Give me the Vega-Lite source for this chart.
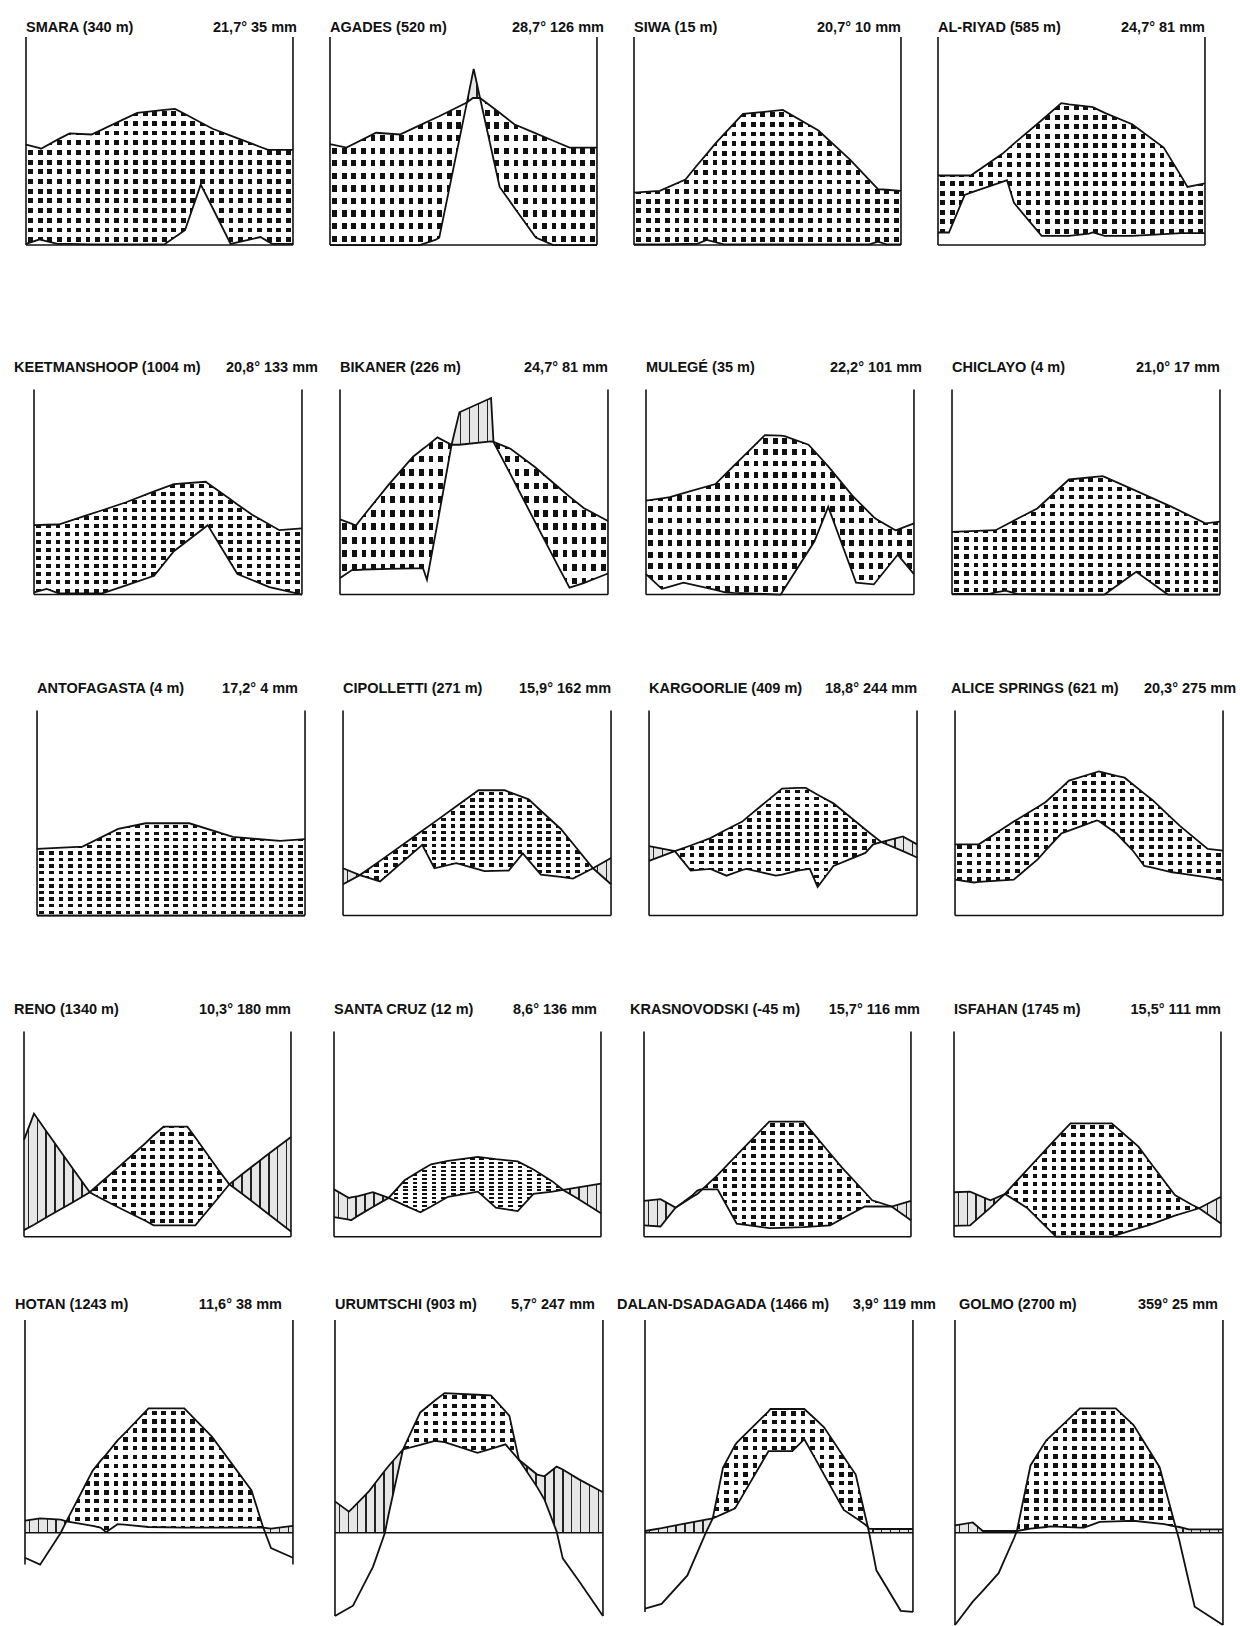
{
"$schema":"https://vega.github.io/schema/vega-lite/v6.json",
"padding":0,
"background":"white",
"params":[
{"name":"dotrows","value":{"gradient":"linear","x1":0,"y1":0,"x2":0,"y2":1,"stops":[
{"offset":0,"color":"#fff"},
{"offset":0.0179,"color":"#fff"},{"offset":0.0179,"color":"#111"},{"offset":0.0536,"color":"#111"},{"offset":0.0536,"color":"#fff"},
{"offset":0.0893,"color":"#fff"},{"offset":0.0893,"color":"#111"},{"offset":0.125,"color":"#111"},{"offset":0.125,"color":"#fff"},
{"offset":0.1607,"color":"#fff"},{"offset":0.1607,"color":"#111"},{"offset":0.1964,"color":"#111"},{"offset":0.1964,"color":"#fff"},
{"offset":0.2321,"color":"#fff"},{"offset":0.2321,"color":"#111"},{"offset":0.2679,"color":"#111"},{"offset":0.2679,"color":"#fff"},
{"offset":0.3036,"color":"#fff"},{"offset":0.3036,"color":"#111"},{"offset":0.3393,"color":"#111"},{"offset":0.3393,"color":"#fff"},
{"offset":0.375,"color":"#fff"},{"offset":0.375,"color":"#111"},{"offset":0.4107,"color":"#111"},{"offset":0.4107,"color":"#fff"},
{"offset":0.4464,"color":"#fff"},{"offset":0.4464,"color":"#111"},{"offset":0.4821,"color":"#111"},{"offset":0.4821,"color":"#fff"},
{"offset":0.5179,"color":"#fff"},{"offset":0.5179,"color":"#111"},{"offset":0.5536,"color":"#111"},{"offset":0.5536,"color":"#fff"},
{"offset":0.5893,"color":"#fff"},{"offset":0.5893,"color":"#111"},{"offset":0.625,"color":"#111"},{"offset":0.625,"color":"#fff"},
{"offset":0.6607,"color":"#fff"},{"offset":0.6607,"color":"#111"},{"offset":0.6964,"color":"#111"},{"offset":0.6964,"color":"#fff"},
{"offset":0.7321,"color":"#fff"},{"offset":0.7321,"color":"#111"},{"offset":0.7679,"color":"#111"},{"offset":0.7679,"color":"#fff"},
{"offset":0.8036,"color":"#fff"},{"offset":0.8036,"color":"#111"},{"offset":0.8393,"color":"#111"},{"offset":0.8393,"color":"#fff"},
{"offset":0.875,"color":"#fff"},{"offset":0.875,"color":"#111"},{"offset":0.9107,"color":"#111"},{"offset":0.9107,"color":"#fff"},
{"offset":0.9464,"color":"#fff"},{"offset":0.9464,"color":"#111"},{"offset":0.9821,"color":"#111"},{"offset":0.9821,"color":"#fff"},
{"offset":1,"color":"#fff"}]}},
{"name":"dotcols","value":{"gradient":"linear","x1":0,"y1":0,"x2":1,"y2":0,"stops":[
{"offset":0,"color":"#fff"},
{"offset":0.0089,"color":"#fff"},{"offset":0.0089,"color":"rgba(255,255,255,0)"},{"offset":0.0268,"color":"rgba(255,255,255,0)"},{"offset":0.0268,"color":"#fff"},
{"offset":0.0446,"color":"#fff"},{"offset":0.0446,"color":"rgba(255,255,255,0)"},{"offset":0.0625,"color":"rgba(255,255,255,0)"},{"offset":0.0625,"color":"#fff"},
{"offset":0.0804,"color":"#fff"},{"offset":0.0804,"color":"rgba(255,255,255,0)"},{"offset":0.0982,"color":"rgba(255,255,255,0)"},{"offset":0.0982,"color":"#fff"},
{"offset":0.1161,"color":"#fff"},{"offset":0.1161,"color":"rgba(255,255,255,0)"},{"offset":0.1339,"color":"rgba(255,255,255,0)"},{"offset":0.1339,"color":"#fff"},
{"offset":0.1518,"color":"#fff"},{"offset":0.1518,"color":"rgba(255,255,255,0)"},{"offset":0.1696,"color":"rgba(255,255,255,0)"},{"offset":0.1696,"color":"#fff"},
{"offset":0.1875,"color":"#fff"},{"offset":0.1875,"color":"rgba(255,255,255,0)"},{"offset":0.2054,"color":"rgba(255,255,255,0)"},{"offset":0.2054,"color":"#fff"},
{"offset":0.2232,"color":"#fff"},{"offset":0.2232,"color":"rgba(255,255,255,0)"},{"offset":0.2411,"color":"rgba(255,255,255,0)"},{"offset":0.2411,"color":"#fff"},
{"offset":0.2589,"color":"#fff"},{"offset":0.2589,"color":"rgba(255,255,255,0)"},{"offset":0.2768,"color":"rgba(255,255,255,0)"},{"offset":0.2768,"color":"#fff"},
{"offset":0.2946,"color":"#fff"},{"offset":0.2946,"color":"rgba(255,255,255,0)"},{"offset":0.3125,"color":"rgba(255,255,255,0)"},{"offset":0.3125,"color":"#fff"},
{"offset":0.3304,"color":"#fff"},{"offset":0.3304,"color":"rgba(255,255,255,0)"},{"offset":0.3482,"color":"rgba(255,255,255,0)"},{"offset":0.3482,"color":"#fff"},
{"offset":0.3661,"color":"#fff"},{"offset":0.3661,"color":"rgba(255,255,255,0)"},{"offset":0.3839,"color":"rgba(255,255,255,0)"},{"offset":0.3839,"color":"#fff"},
{"offset":0.4018,"color":"#fff"},{"offset":0.4018,"color":"rgba(255,255,255,0)"},{"offset":0.4196,"color":"rgba(255,255,255,0)"},{"offset":0.4196,"color":"#fff"},
{"offset":0.4375,"color":"#fff"},{"offset":0.4375,"color":"rgba(255,255,255,0)"},{"offset":0.4554,"color":"rgba(255,255,255,0)"},{"offset":0.4554,"color":"#fff"},
{"offset":0.4732,"color":"#fff"},{"offset":0.4732,"color":"rgba(255,255,255,0)"},{"offset":0.4911,"color":"rgba(255,255,255,0)"},{"offset":0.4911,"color":"#fff"},
{"offset":0.5089,"color":"#fff"},{"offset":0.5089,"color":"rgba(255,255,255,0)"},{"offset":0.5268,"color":"rgba(255,255,255,0)"},{"offset":0.5268,"color":"#fff"},
{"offset":0.5446,"color":"#fff"},{"offset":0.5446,"color":"rgba(255,255,255,0)"},{"offset":0.5625,"color":"rgba(255,255,255,0)"},{"offset":0.5625,"color":"#fff"},
{"offset":0.5804,"color":"#fff"},{"offset":0.5804,"color":"rgba(255,255,255,0)"},{"offset":0.5982,"color":"rgba(255,255,255,0)"},{"offset":0.5982,"color":"#fff"},
{"offset":0.6161,"color":"#fff"},{"offset":0.6161,"color":"rgba(255,255,255,0)"},{"offset":0.6339,"color":"rgba(255,255,255,0)"},{"offset":0.6339,"color":"#fff"},
{"offset":0.6518,"color":"#fff"},{"offset":0.6518,"color":"rgba(255,255,255,0)"},{"offset":0.6696,"color":"rgba(255,255,255,0)"},{"offset":0.6696,"color":"#fff"},
{"offset":0.6875,"color":"#fff"},{"offset":0.6875,"color":"rgba(255,255,255,0)"},{"offset":0.7054,"color":"rgba(255,255,255,0)"},{"offset":0.7054,"color":"#fff"},
{"offset":0.7232,"color":"#fff"},{"offset":0.7232,"color":"rgba(255,255,255,0)"},{"offset":0.7411,"color":"rgba(255,255,255,0)"},{"offset":0.7411,"color":"#fff"},
{"offset":0.7589,"color":"#fff"},{"offset":0.7589,"color":"rgba(255,255,255,0)"},{"offset":0.7768,"color":"rgba(255,255,255,0)"},{"offset":0.7768,"color":"#fff"},
{"offset":0.7946,"color":"#fff"},{"offset":0.7946,"color":"rgba(255,255,255,0)"},{"offset":0.8125,"color":"rgba(255,255,255,0)"},{"offset":0.8125,"color":"#fff"},
{"offset":0.8304,"color":"#fff"},{"offset":0.8304,"color":"rgba(255,255,255,0)"},{"offset":0.8482,"color":"rgba(255,255,255,0)"},{"offset":0.8482,"color":"#fff"},
{"offset":0.8661,"color":"#fff"},{"offset":0.8661,"color":"rgba(255,255,255,0)"},{"offset":0.8839,"color":"rgba(255,255,255,0)"},{"offset":0.8839,"color":"#fff"},
{"offset":0.9018,"color":"#fff"},{"offset":0.9018,"color":"rgba(255,255,255,0)"},{"offset":0.9196,"color":"rgba(255,255,255,0)"},{"offset":0.9196,"color":"#fff"},
{"offset":0.9375,"color":"#fff"},{"offset":0.9375,"color":"rgba(255,255,255,0)"},{"offset":0.9554,"color":"rgba(255,255,255,0)"},{"offset":0.9554,"color":"#fff"},
{"offset":0.9732,"color":"#fff"},{"offset":0.9732,"color":"rgba(255,255,255,0)"},{"offset":0.9911,"color":"rgba(255,255,255,0)"},{"offset":0.9911,"color":"#fff"},
{"offset":1,"color":"#fff"}]}},
{"name":"hatch","value":{"gradient":"linear","x1":0,"y1":0,"x2":1,"y2":0,"stops":[
{"offset":0,"color":"#e6e6e6"},
{"offset":0.0137,"color":"#e6e6e6"},{"offset":0.0137,"color":"#222"},{"offset":0.0197,"color":"#222"},{"offset":0.0197,"color":"#e6e6e6"},
{"offset":0.047,"color":"#e6e6e6"},{"offset":0.047,"color":"#222"},{"offset":0.053,"color":"#222"},{"offset":0.053,"color":"#e6e6e6"},
{"offset":0.0803,"color":"#e6e6e6"},{"offset":0.0803,"color":"#222"},{"offset":0.0863,"color":"#222"},{"offset":0.0863,"color":"#e6e6e6"},
{"offset":0.1137,"color":"#e6e6e6"},{"offset":0.1137,"color":"#222"},{"offset":0.1197,"color":"#222"},{"offset":0.1197,"color":"#e6e6e6"},
{"offset":0.147,"color":"#e6e6e6"},{"offset":0.147,"color":"#222"},{"offset":0.153,"color":"#222"},{"offset":0.153,"color":"#e6e6e6"},
{"offset":0.1803,"color":"#e6e6e6"},{"offset":0.1803,"color":"#222"},{"offset":0.1863,"color":"#222"},{"offset":0.1863,"color":"#e6e6e6"},
{"offset":0.2137,"color":"#e6e6e6"},{"offset":0.2137,"color":"#222"},{"offset":0.2197,"color":"#222"},{"offset":0.2197,"color":"#e6e6e6"},
{"offset":0.247,"color":"#e6e6e6"},{"offset":0.247,"color":"#222"},{"offset":0.253,"color":"#222"},{"offset":0.253,"color":"#e6e6e6"},
{"offset":0.2803,"color":"#e6e6e6"},{"offset":0.2803,"color":"#222"},{"offset":0.2863,"color":"#222"},{"offset":0.2863,"color":"#e6e6e6"},
{"offset":0.3137,"color":"#e6e6e6"},{"offset":0.3137,"color":"#222"},{"offset":0.3197,"color":"#222"},{"offset":0.3197,"color":"#e6e6e6"},
{"offset":0.347,"color":"#e6e6e6"},{"offset":0.347,"color":"#222"},{"offset":0.353,"color":"#222"},{"offset":0.353,"color":"#e6e6e6"},
{"offset":0.3803,"color":"#e6e6e6"},{"offset":0.3803,"color":"#222"},{"offset":0.3863,"color":"#222"},{"offset":0.3863,"color":"#e6e6e6"},
{"offset":0.4137,"color":"#e6e6e6"},{"offset":0.4137,"color":"#222"},{"offset":0.4197,"color":"#222"},{"offset":0.4197,"color":"#e6e6e6"},
{"offset":0.447,"color":"#e6e6e6"},{"offset":0.447,"color":"#222"},{"offset":0.453,"color":"#222"},{"offset":0.453,"color":"#e6e6e6"},
{"offset":0.4803,"color":"#e6e6e6"},{"offset":0.4803,"color":"#222"},{"offset":0.4863,"color":"#222"},{"offset":0.4863,"color":"#e6e6e6"},
{"offset":0.5137,"color":"#e6e6e6"},{"offset":0.5137,"color":"#222"},{"offset":0.5197,"color":"#222"},{"offset":0.5197,"color":"#e6e6e6"},
{"offset":0.547,"color":"#e6e6e6"},{"offset":0.547,"color":"#222"},{"offset":0.553,"color":"#222"},{"offset":0.553,"color":"#e6e6e6"},
{"offset":0.5803,"color":"#e6e6e6"},{"offset":0.5803,"color":"#222"},{"offset":0.5863,"color":"#222"},{"offset":0.5863,"color":"#e6e6e6"},
{"offset":0.6137,"color":"#e6e6e6"},{"offset":0.6137,"color":"#222"},{"offset":0.6197,"color":"#222"},{"offset":0.6197,"color":"#e6e6e6"},
{"offset":0.647,"color":"#e6e6e6"},{"offset":0.647,"color":"#222"},{"offset":0.653,"color":"#222"},{"offset":0.653,"color":"#e6e6e6"},
{"offset":0.6803,"color":"#e6e6e6"},{"offset":0.6803,"color":"#222"},{"offset":0.6863,"color":"#222"},{"offset":0.6863,"color":"#e6e6e6"},
{"offset":0.7137,"color":"#e6e6e6"},{"offset":0.7137,"color":"#222"},{"offset":0.7197,"color":"#222"},{"offset":0.7197,"color":"#e6e6e6"},
{"offset":0.747,"color":"#e6e6e6"},{"offset":0.747,"color":"#222"},{"offset":0.753,"color":"#222"},{"offset":0.753,"color":"#e6e6e6"},
{"offset":0.7803,"color":"#e6e6e6"},{"offset":0.7803,"color":"#222"},{"offset":0.7863,"color":"#222"},{"offset":0.7863,"color":"#e6e6e6"},
{"offset":0.8137,"color":"#e6e6e6"},{"offset":0.8137,"color":"#222"},{"offset":0.8197,"color":"#222"},{"offset":0.8197,"color":"#e6e6e6"},
{"offset":0.847,"color":"#e6e6e6"},{"offset":0.847,"color":"#222"},{"offset":0.853,"color":"#222"},{"offset":0.853,"color":"#e6e6e6"},
{"offset":0.8803,"color":"#e6e6e6"},{"offset":0.8803,"color":"#222"},{"offset":0.8863,"color":"#222"},{"offset":0.8863,"color":"#e6e6e6"},
{"offset":0.9137,"color":"#e6e6e6"},{"offset":0.9137,"color":"#222"},{"offset":0.9197,"color":"#222"},{"offset":0.9197,"color":"#e6e6e6"},
{"offset":0.947,"color":"#e6e6e6"},{"offset":0.947,"color":"#222"},{"offset":0.953,"color":"#222"},{"offset":0.953,"color":"#e6e6e6"},
{"offset":0.9803,"color":"#e6e6e6"},{"offset":0.9803,"color":"#222"},{"offset":0.9863,"color":"#222"},{"offset":0.9863,"color":"#e6e6e6"},
{"offset":1,"color":"#e6e6e6"}]}}
],
"data":{"values":[
{"st":"SMARA","name":"SMARA (340 m)","info":"21,7°  35 mm"},
{"st":"AGADES","name":"AGADES (520 m)","info":"28,7° 126 mm"},
{"st":"SIWA","name":"SIWA (15 m)","info":"20,7°  10 mm"},
{"st":"ALRIYAD","name":"AL-RIYAD (585 m)","info":"24,7°  81 mm"},
{"st":"KEETMANSHOOP","name":"KEETMANSHOOP (1004 m)","info":"20,8°  133 mm"},
{"st":"BIKANER","name":"BIKANER (226 m)","info":"24,7°  81 mm"},
{"st":"MULEGE","name":"MULEGÉ (35 m)","info":"22,2° 101 mm"},
{"st":"CHICLAYO","name":"CHICLAYO (4 m)","info":"21,0°  17 mm"},
{"st":"ANTOFAGASTA","name":"ANTOFAGASTA (4 m)","info":"17,2°  4 mm"},
{"st":"CIPOLLETTI","name":"CIPOLLETTI (271 m)","info":"15,9°  162 mm"},
{"st":"KARGOORLIE","name":"KARGOORLIE (409 m)","info":"18,8°  244 mm"},
{"st":"ALICE","name":"ALICE SPRINGS (621 m)","info":"20,3° 275 mm"},
{"st":"RENO","name":"RENO (1340 m)","info":"10,3°  180 mm"},
{"st":"SANTACRUZ","name":"SANTA CRUZ (12 m)","info":"8,6°  136 mm"},
{"st":"KRASNOVODSKI","name":"KRASNOVODSKI (-45 m)","info":"15,7°  116 mm"},
{"st":"ISFAHAN","name":"ISFAHAN (1745 m)","info":"15,5°  111 mm"},
{"st":"HOTAN","name":"HOTAN (1243 m)","info":"11,6° 38 mm"},
{"st":"URUMTSCHI","name":"URUMTSCHI (903 m)","info":"5,7° 247 mm"},
{"st":"DALAN","name":"DALAN-DSADAGADA (1466 m)","info":"3,9° 119 mm"},
{"st":"GOLMO","name":"GOLMO (2700 m)","info":"359° 25 mm"},

{"st":"SMARA","x":0,"t":17.6,"p":0.2},{"st":"SMARA","x":0.57,"t":17.0,"p":1.0},{"st":"SMARA","x":0.62,"t":16.9,"p":0.9},{"st":"SMARA","x":1.3,"t":18.5,"p":0.2},{"st":"SMARA","x":1.8,"t":19.6,"p":0.2},{"st":"SMARA","x":2.7,"t":19.4,"p":0.1},{"st":"SMARA","x":4.58,"t":23.2,"p":0.1},{"st":"SMARA","x":5.7,"t":23.7,"p":0.1},{"st":"SMARA","x":6.14,"t":23.9,"p":1.4},{"st":"SMARA","x":6.55,"t":23.0,"p":2.6},{"st":"SMARA","x":7.2,"t":21.5,"p":10.6},{"st":"SMARA","x":7.69,"t":20.4,"p":6.5},{"st":"SMARA","x":8.43,"t":19.2,"p":0.2},{"st":"SMARA","x":9.66,"t":17.2,"p":1.4},{"st":"SMARA","x":9.98,"t":16.7,"p":0.6},{"st":"SMARA","x":10.15,"t":16.7,"p":0.2},{"st":"SMARA","x":11,"t":16.7,"p":0.2},

{"st":"AGADES","x":0,"t":17.7,"p":0},{"st":"AGADES","x":0.68,"t":17.1,"p":0},{"st":"AGADES","x":1.9,"t":19.7,"p":0},{"st":"AGADES","x":2.88,"t":19.4,"p":0},{"st":"AGADES","x":3.69,"t":21.0,"p":0},{"st":"AGADES","x":4.34,"t":22.3,"p":0.9},{"st":"AGADES","x":4.5,"t":22.6,"p":1.3},{"st":"AGADES","x":5.64,"t":25.0,"p":25.0},{"st":"AGADES","x":5.89,"t":25.8,"p":30.3},{"st":"AGADES","x":5.92,"t":25.8,"p":30.9},{"st":"AGADES","x":6.18,"t":25.8,"p":25.8},{"st":"AGADES","x":6.99,"t":23.2,"p":10.2},{"st":"AGADES","x":7.59,"t":21.2,"p":6.6},{"st":"AGADES","x":8.48,"t":19.6,"p":1.3},{"st":"AGADES","x":9.2,"t":18.3,"p":0},{"st":"AGADES","x":9.87,"t":17.1,"p":0},{"st":"AGADES","x":11,"t":17.1,"p":0},

{"st":"SIWA","x":0,"t":9.2,"p":0.1},{"st":"SIWA","x":1.06,"t":9.5,"p":0.1},{"st":"SIWA","x":2.12,"t":11.5,"p":0.2},{"st":"SIWA","x":2.6,"t":14.0,"p":0.2},{"st":"SIWA","x":3.0,"t":16.0,"p":0.9},{"st":"SIWA","x":3.35,"t":17.8,"p":0.5},{"st":"SIWA","x":3.7,"t":19.4,"p":0.1},{"st":"SIWA","x":4.49,"t":23.0,"p":0.1},{"st":"SIWA","x":6.13,"t":23.7,"p":0.1},{"st":"SIWA","x":7.6,"t":20.1,"p":0.1},{"st":"SIWA","x":8.9,"t":15.0,"p":0.1},{"st":"SIWA","x":9.7,"t":11.4,"p":0.1},{"st":"SIWA","x":10.05,"t":9.8,"p":0.6},{"st":"SIWA","x":10.4,"t":9.7,"p":0.1},{"st":"SIWA","x":11,"t":9.5,"p":0.1},

{"st":"ALRIYAD","x":0,"t":12.2,"p":2.2},{"st":"ALRIYAD","x":0.45,"t":12.2,"p":2.2},{"st":"ALRIYAD","x":1.1,"t":12.2,"p":8.8},{"st":"ALRIYAD","x":1.35,"t":12.2,"p":9.2},{"st":"ALRIYAD","x":2.65,"t":16.0,"p":11.1},{"st":"ALRIYAD","x":2.84,"t":16.7,"p":11.4},{"st":"ALRIYAD","x":3.13,"t":17.8,"p":7.4},{"st":"ALRIYAD","x":4.27,"t":21.9,"p":1.6},{"st":"ALRIYAD","x":5.08,"t":24.9,"p":1.6},{"st":"ALRIYAD","x":5.4,"t":24.7,"p":1.6},{"st":"ALRIYAD","x":6.22,"t":24.3,"p":2.0},{"st":"ALRIYAD","x":6.38,"t":24.2,"p":2.2},{"st":"ALRIYAD","x":6.87,"t":23.2,"p":1.6},{"st":"ALRIYAD","x":8.0,"t":21.2,"p":1.6},{"st":"ALRIYAD","x":9.3,"t":17.1,"p":1.9},{"st":"ALRIYAD","x":10.03,"t":12.0,"p":2.1},{"st":"ALRIYAD","x":10.28,"t":10.2,"p":2.1},{"st":"ALRIYAD","x":11,"t":10.8,"p":2.1},

{"st":"KEETMANSHOOP","x":0,"t":12.2,"p":0.4},{"st":"KEETMANSHOOP","x":0.52,"t":12.25,"p":1.0},{"st":"KEETMANSHOOP","x":1.01,"t":12.3,"p":0.2},{"st":"KEETMANSHOOP","x":2.15,"t":13.9,"p":0.2},{"st":"KEETMANSHOOP","x":2.8,"t":14.8,"p":0.2},{"st":"KEETMANSHOOP","x":3.78,"t":16.2,"p":1.6},{"st":"KEETMANSHOOP","x":4.93,"t":18.1,"p":3.3},{"st":"KEETMANSHOOP","x":5.74,"t":19.4,"p":7.6},{"st":"KEETMANSHOOP","x":7.05,"t":19.8,"p":11.9},{"st":"KEETMANSHOOP","x":7.13,"t":19.55,"p":12.2},{"st":"KEETMANSHOOP","x":8.03,"t":16.8,"p":5.85},{"st":"KEETMANSHOOP","x":8.35,"t":15.8,"p":3.6},{"st":"KEETMANSHOOP","x":9.0,"t":13.9,"p":2.46},{"st":"KEETMANSHOOP","x":9.66,"t":12.3,"p":1.3},{"st":"KEETMANSHOOP","x":10.07,"t":11.3,"p":0.9},{"st":"KEETMANSHOOP","x":11,"t":11.6,"p":0},

{"st":"BIKANER","x":0,"t":13.2,"p":2.9},{"st":"BIKANER","x":0.49,"t":12.4,"p":4.3},{"st":"BIKANER","x":0.65,"t":12.1,"p":4.3},{"st":"BIKANER","x":1.0,"t":14.0,"p":4.4},{"st":"BIKANER","x":2.0,"t":19.3,"p":4.5},{"st":"BIKANER","x":3.0,"t":24.2,"p":4.6},{"st":"BIKANER","x":3.41,"t":25.6,"p":4.6},{"st":"BIKANER","x":3.57,"t":26.1,"p":2.6},{"st":"BIKANER","x":4.0,"t":27.6,"p":12.5},{"st":"BIKANER","x":4.58,"t":26.3,"p":26.3},{"st":"BIKANER","x":4.9,"t":26.3,"p":32.0},{"st":"BIKANER","x":6.2,"t":26.9,"p":34.5},{"st":"BIKANER","x":6.3,"t":26.8,"p":26.8},{"st":"BIKANER","x":7.0,"t":25.6,"p":21.1},{"st":"BIKANER","x":8.0,"t":22.4,"p":12.8},{"st":"BIKANER","x":9.0,"t":18.7,"p":4.6},{"st":"BIKANER","x":9.42,"t":17.2,"p":1.2},{"st":"BIKANER","x":10.0,"t":15.2,"p":2.0},{"st":"BIKANER","x":11,"t":12.9,"p":3.7},

{"st":"MULEGE","x":0,"t":16.5,"p":3.6},{"st":"MULEGE","x":0.65,"t":16.9,"p":1.0},{"st":"MULEGE","x":0.98,"t":17.1,"p":1.4},{"st":"MULEGE","x":1.54,"t":17.8,"p":2.1},{"st":"MULEGE","x":2.85,"t":19.4,"p":0.8},{"st":"MULEGE","x":3.25,"t":21.1,"p":0.4},{"st":"MULEGE","x":3.58,"t":22.5,"p":0.3},{"st":"MULEGE","x":4.88,"t":28.0,"p":0.1},{"st":"MULEGE","x":5.53,"t":27.9,"p":0},{"st":"MULEGE","x":5.69,"t":27.8,"p":1.1},{"st":"MULEGE","x":6.67,"t":26.3,"p":7.7},{"st":"MULEGE","x":6.91,"t":25.2,"p":9.3},{"st":"MULEGE","x":7.48,"t":22.5,"p":15.4},{"st":"MULEGE","x":8.46,"t":17.4,"p":4.0},{"st":"MULEGE","x":8.62,"t":16.7,"p":2.1},{"st":"MULEGE","x":9.35,"t":13.6,"p":1.8},{"st":"MULEGE","x":9.43,"t":13.3,"p":2.2},{"st":"MULEGE","x":10.24,"t":11.3,"p":6.5},{"st":"MULEGE","x":10.33,"t":11.4,"p":7.0},{"st":"MULEGE","x":11,"t":12.5,"p":3.6},

{"st":"CHICLAYO","x":0,"t":11.0,"p":0.1},{"st":"CHICLAYO","x":1.54,"t":11.25,"p":0.1},{"st":"CHICLAYO","x":1.79,"t":11.3,"p":0.4},{"st":"CHICLAYO","x":2.2,"t":12.2,"p":0.7},{"st":"CHICLAYO","x":2.68,"t":13.3,"p":0.1},{"st":"CHICLAYO","x":3.5,"t":15.1,"p":0.05},{"st":"CHICLAYO","x":4.8,"t":20.2,"p":0},{"st":"CHICLAYO","x":6.18,"t":20.8,"p":0},{"st":"CHICLAYO","x":6.26,"t":20.65,"p":0},{"st":"CHICLAYO","x":7.56,"t":18.2,"p":4.0},{"st":"CHICLAYO","x":8.86,"t":15.7,"p":0},{"st":"CHICLAYO","x":9.02,"t":15.4,"p":0},{"st":"CHICLAYO","x":10.4,"t":12.5,"p":0},{"st":"CHICLAYO","x":11,"t":12.8,"p":0},

{"st":"ANTOFAGASTA","x":0,"t":11.7,"p":0},{"st":"ANTOFAGASTA","x":1.87,"t":12.1,"p":0},{"st":"ANTOFAGASTA","x":3.33,"t":15.2,"p":0},{"st":"ANTOFAGASTA","x":4.46,"t":16.2,"p":0},{"st":"ANTOFAGASTA","x":6.25,"t":16.2,"p":0},{"st":"ANTOFAGASTA","x":8.04,"t":13.8,"p":0},{"st":"ANTOFAGASTA","x":9.98,"t":13.1,"p":0},{"st":"ANTOFAGASTA","x":11,"t":13.4,"p":0},

{"st":"CIPOLLETTI","x":0,"t":5.5,"p":8.3},{"st":"CIPOLLETTI","x":0.69,"t":7.1,"p":7.1},{"st":"CIPOLLETTI","x":1.52,"t":9.6,"p":6.0},{"st":"CIPOLLETTI","x":3.25,"t":14.9,"p":12.4},{"st":"CIPOLLETTI","x":3.75,"t":16.4,"p":8.3},{"st":"CIPOLLETTI","x":4.65,"t":19.2,"p":9.2},{"st":"CIPOLLETTI","x":5.56,"t":22.0,"p":8.1},{"st":"CIPOLLETTI","x":5.8,"t":22.0,"p":7.8},{"st":"CIPOLLETTI","x":6.63,"t":22.0,"p":7.9},{"st":"CIPOLLETTI","x":6.8,"t":21.7,"p":7.9},{"st":"CIPOLLETTI","x":7.38,"t":20.8,"p":10.9},{"st":"CIPOLLETTI","x":7.62,"t":20.4,"p":9.7},{"st":"CIPOLLETTI","x":8.12,"t":18.4,"p":7.2},{"st":"CIPOLLETTI","x":8.94,"t":15.2,"p":6.8},{"st":"CIPOLLETTI","x":9.44,"t":12.6,"p":6.5},{"st":"CIPOLLETTI","x":10.26,"t":8.3,"p":8.3},{"st":"CIPOLLETTI","x":11,"t":5.5,"p":10.1},

{"st":"KARGOORLIE","x":0,"t":9.6,"p":12.2},{"st":"KARGOORLIE","x":1.06,"t":11.3,"p":11.3},{"st":"KARGOORLIE","x":1.71,"t":12.3,"p":7.9},{"st":"KARGOORLIE","x":2.52,"t":13.6,"p":8.2},{"st":"KARGOORLIE","x":3.18,"t":15.1,"p":7.0},{"st":"KARGOORLIE","x":3.83,"t":16.5,"p":8.0},{"st":"KARGOORLIE","x":3.99,"t":17.1,"p":8.2},{"st":"KARGOORLIE","x":5.21,"t":21.4,"p":7.0},{"st":"KARGOORLIE","x":5.46,"t":22.3,"p":7.2},{"st":"KARGOORLIE","x":6.1,"t":22.4,"p":7.9},{"st":"KARGOORLIE","x":6.43,"t":22.4,"p":8.1},{"st":"KARGOORLIE","x":6.6,"t":22.0,"p":8.2},{"st":"KARGOORLIE","x":6.92,"t":21.2,"p":5.0},{"st":"KARGOORLIE","x":7.57,"t":19.7,"p":8.7},{"st":"KARGOORLIE","x":8.88,"t":15.1,"p":11.0},{"st":"KARGOORLIE","x":9.2,"t":14.0,"p":12.5},{"st":"KARGOORLIE","x":9.53,"t":12.9,"p":12.9},{"st":"KARGOORLIE","x":10.42,"t":11.3,"p":13.9},{"st":"KARGOORLIE","x":11,"t":10.2,"p":12.5},

{"st":"ALICE","x":0,"t":12.5,"p":6.3},{"st":"ALICE","x":0.78,"t":12.5,"p":5.8},{"st":"ALICE","x":0.98,"t":12.5,"p":5.9},{"st":"ALICE","x":2.41,"t":16.5,"p":6.3},{"st":"ALICE","x":3.38,"t":19.0,"p":9.8},{"st":"ALICE","x":3.71,"t":19.9,"p":11.4},{"st":"ALICE","x":4.36,"t":22.4,"p":14.4},{"st":"ALICE","x":4.68,"t":23.7,"p":14.9},{"st":"ALICE","x":5.82,"t":25.2,"p":16.7},{"st":"ALICE","x":5.9,"t":25.3,"p":16.6},{"st":"ALICE","x":6.63,"t":24.5,"p":14.4},{"st":"ALICE","x":6.96,"t":24.2,"p":12.9},{"st":"ALICE","x":7.28,"t":23.1,"p":11.5},{"st":"ALICE","x":7.77,"t":21.4,"p":8.7},{"st":"ALICE","x":8.1,"t":20.3,"p":8.4},{"st":"ALICE","x":8.91,"t":17.0,"p":7.6},{"st":"ALICE","x":9.24,"t":15.7,"p":7.4},{"st":"ALICE","x":10.37,"t":11.7,"p":6.7},{"st":"ALICE","x":11,"t":11.4,"p":6.2},

{"st":"RENO","x":0,"t":1.15,"p":17.0},{"st":"RENO","x":0.41,"t":2.1,"p":21.6},{"st":"RENO","x":1,"t":3.6,"p":18.0},{"st":"RENO","x":2,"t":6.0,"p":12.0},{"st":"RENO","x":2.71,"t":7.8,"p":7.8},{"st":"RENO","x":3,"t":8.9,"p":7.1},{"st":"RENO","x":4,"t":12.6,"p":4.9},{"st":"RENO","x":5,"t":16.4,"p":2.8},{"st":"RENO","x":5.34,"t":17.8,"p":2.0},{"st":"RENO","x":5.75,"t":19.3,"p":2.0},{"st":"RENO","x":6.73,"t":19.3,"p":2.0},{"st":"RENO","x":7.06,"t":17.4,"p":2.0},{"st":"RENO","x":8,"t":11.8,"p":6.8},{"st":"RENO","x":8.46,"t":9.2,"p":9.2},{"st":"RENO","x":9,"t":7.5,"p":11.0},{"st":"RENO","x":10,"t":4.2,"p":14.3},{"st":"RENO","x":11,"t":0.9,"p":17.5},

{"st":"SANTACRUZ","x":0,"t":3.45,"p":8.3},{"st":"SANTACRUZ","x":0.62,"t":3.0,"p":6.8},{"st":"SANTACRUZ","x":0.7,"t":2.9,"p":6.9},{"st":"SANTACRUZ","x":1,"t":3.7,"p":7.1},{"st":"SANTACRUZ","x":1.6,"t":5.2,"p":7.8},{"st":"SANTACRUZ","x":2,"t":6.2,"p":7.2},{"st":"SANTACRUZ","x":2.25,"t":6.8,"p":6.8},{"st":"SANTACRUZ","x":2.91,"t":9.9,"p":5.5},{"st":"SANTACRUZ","x":3.56,"t":11.6,"p":4.3},{"st":"SANTACRUZ","x":4,"t":12.7,"p":5.3},{"st":"SANTACRUZ","x":4.7,"t":13.3,"p":7.0},{"st":"SANTACRUZ","x":5.93,"t":14.0,"p":7.9},{"st":"SANTACRUZ","x":6.67,"t":13.6,"p":5.1},{"st":"SANTACRUZ","x":7.57,"t":13.2,"p":4.5},{"st":"SANTACRUZ","x":8.22,"t":11.8,"p":7.5},{"st":"SANTACRUZ","x":9,"t":9.7,"p":7.9},{"st":"SANTACRUZ","x":9.44,"t":8.2,"p":8.2},{"st":"SANTACRUZ","x":10,"t":6.8,"p":8.6},{"st":"SANTACRUZ","x":11,"t":4.1,"p":9.3},

{"st":"KRASNOVODSKI","x":0,"t":2.0,"p":6.3},{"st":"KRASNOVODSKI","x":0.68,"t":1.8,"p":6.6},{"st":"KRASNOVODSKI","x":1.3,"t":5.1,"p":5.1},{"st":"KRASNOVODSKI","x":1.6,"t":5.9,"p":6.0},{"st":"KRASNOVODSKI","x":2.0,"t":7.0,"p":7.3},{"st":"KRASNOVODSKI","x":2.2,"t":7.5,"p":8.1},{"st":"KRASNOVODSKI","x":2.33,"t":8.0,"p":8.3},{"st":"KRASNOVODSKI","x":2.4,"t":8.3,"p":8.3},{"st":"KRASNOVODSKI","x":3.03,"t":10.8,"p":8.3},{"st":"KRASNOVODSKI","x":3.1,"t":11.1,"p":7.8},{"st":"KRASNOVODSKI","x":3.82,"t":14.3,"p":2.3},{"st":"KRASNOVODSKI","x":5.16,"t":20.2,"p":1.5},{"st":"KRASNOVODSKI","x":5.3,"t":20.2,"p":1.5},{"st":"KRASNOVODSKI","x":6.57,"t":20.2,"p":1.7},{"st":"KRASNOVODSKI","x":7.67,"t":14.6,"p":2.0},{"st":"KRASNOVODSKI","x":8.14,"t":12.2,"p":3.1},{"st":"KRASNOVODSKI","x":9.1,"t":7.8,"p":5.3},{"st":"KRASNOVODSKI","x":9.4,"t":6.4,"p":5.3},{"st":"KRASNOVODSKI","x":10.2,"t":5.3,"p":5.3},{"st":"KRASNOVODSKI","x":11,"t":2.9,"p":6.3},

{"st":"ISFAHAN","x":0,"t":1.9,"p":7.8},{"st":"ISFAHAN","x":0.66,"t":2.0,"p":7.9},{"st":"ISFAHAN","x":1.5,"t":5.1,"p":6.4},{"st":"ISFAHAN","x":2.1,"t":7.5,"p":7.5},{"st":"ISFAHAN","x":3.0,"t":11.7,"p":5.1},{"st":"ISFAHAN","x":4.2,"t":17.2,"p":0},{"st":"ISFAHAN","x":4.8,"t":19.9,"p":0},{"st":"ISFAHAN","x":6.5,"t":19.9,"p":0},{"st":"ISFAHAN","x":7.6,"t":15.8,"p":1.5},{"st":"ISFAHAN","x":8.0,"t":13.5,"p":2.0},{"st":"ISFAHAN","x":9.1,"t":7.3,"p":3.7},{"st":"ISFAHAN","x":9.8,"t":5.6,"p":4.6},{"st":"ISFAHAN","x":10.1,"t":5.0,"p":5.0},{"st":"ISFAHAN","x":11,"t":2.3,"p":7.0},

{"st":"HOTAN","x":0,"t":-4.4,"p":2.1},{"st":"HOTAN","x":0.62,"t":-5.6,"p":2.5},{"st":"HOTAN","x":1.47,"t":0,"p":2.3},{"st":"HOTAN","x":1.7,"t":2.0,"p":2.0},{"st":"HOTAN","x":2.78,"t":10.9,"p":1.2},{"st":"HOTAN","x":3.1,"t":12.6,"p":0.9},{"st":"HOTAN","x":3.33,"t":13.7,"p":0.1},{"st":"HOTAN","x":3.8,"t":16.2,"p":1.5},{"st":"HOTAN","x":4.08,"t":17.4,"p":1.4},{"st":"HOTAN","x":5.07,"t":21.8,"p":1.0},{"st":"HOTAN","x":6.54,"t":21.8,"p":0.9},{"st":"HOTAN","x":7.68,"t":16.8,"p":0.9},{"st":"HOTAN","x":9.3,"t":7.4,"p":0.9},{"st":"HOTAN","x":9.78,"t":0.9,"p":0.9},{"st":"HOTAN","x":10.1,"t":-2.7,"p":0.7},{"st":"HOTAN","x":11,"t":-4.4,"p":1.2},

{"st":"URUMTSCHI","x":0,"t":-14.6,"p":5.5},{"st":"URUMTSCHI","x":0.57,"t":-13.2,"p":3.7},{"st":"URUMTSCHI","x":0.74,"t":-12.8,"p":4.4},{"st":"URUMTSCHI","x":1.4,"t":-7.3,"p":7.3},{"st":"URUMTSCHI","x":1.56,"t":-6.0,"p":8.2},{"st":"URUMTSCHI","x":2.05,"t":0,"p":10.9},{"st":"URUMTSCHI","x":2.2,"t":3.2,"p":11.7},{"st":"URUMTSCHI","x":2.79,"t":14.6,"p":14.6},{"st":"URUMTSCHI","x":3.5,"t":21.1,"p":15.4},{"st":"URUMTSCHI","x":4.1,"t":23.2,"p":16.1},{"st":"URUMTSCHI","x":4.5,"t":24.5,"p":15.9},{"st":"URUMTSCHI","x":5.85,"t":24.2,"p":14.0},{"st":"URUMTSCHI","x":6.4,"t":24.1,"p":14.7},{"st":"URUMTSCHI","x":7.0,"t":21.3,"p":15.5},{"st":"URUMTSCHI","x":7.16,"t":20.5,"p":14.7},{"st":"URUMTSCHI","x":7.55,"t":12.8,"p":12.8},{"st":"URUMTSCHI","x":8.3,"t":8.0,"p":10.2},{"st":"URUMTSCHI","x":8.6,"t":5.8,"p":9.9},{"st":"URUMTSCHI","x":9.1,"t":0.2,"p":11.6},{"st":"URUMTSCHI","x":9.35,"t":-4.5,"p":11.1},{"st":"URUMTSCHI","x":10,"t":-8.4,"p":9.4},{"st":"URUMTSCHI","x":11,"t":-14.6,"p":7.1},

{"st":"DALAN","x":0,"t":-13.3,"p":0.3},{"st":"DALAN","x":0.68,"t":-12.5,"p":0.8},{"st":"DALAN","x":1.74,"t":-7.5,"p":1.7},{"st":"DALAN","x":2.5,"t":0,"p":2.3},{"st":"DALAN","x":2.78,"t":2.5,"p":2.5},{"st":"DALAN","x":3.2,"t":11.4,"p":3.3},{"st":"DALAN","x":3.7,"t":15.4,"p":4.3},{"st":"DALAN","x":3.77,"t":15.8,"p":4.8},{"st":"DALAN","x":5.07,"t":21.3,"p":14.3},{"st":"DALAN","x":5.15,"t":21.7,"p":14.3},{"st":"DALAN","x":6.05,"t":21.7,"p":14.3},{"st":"DALAN","x":6.54,"t":21.7,"p":16.4},{"st":"DALAN","x":7.0,"t":19.9,"p":12.9},{"st":"DALAN","x":7.35,"t":18.5,"p":10.2},{"st":"DALAN","x":8.16,"t":13.3,"p":4.0},{"st":"DALAN","x":8.65,"t":10.2,"p":2.6},{"st":"DALAN","x":9.05,"t":2.8,"p":1.4},{"st":"DALAN","x":9.15,"t":1.0,"p":1.0},{"st":"DALAN","x":9.2,"t":0,"p":0.7},{"st":"DALAN","x":9.5,"t":-6.6,"p":0.65},{"st":"DALAN","x":10.5,"t":-13.7,"p":0.65},{"st":"DALAN","x":11,"t":-13.9,"p":0.65},

{"st":"GOLMO","x":0,"t":-16.2,"p":1.3},{"st":"GOLMO","x":0.73,"t":-12.1,"p":1.8},{"st":"GOLMO","x":1.14,"t":-10.2,"p":0.3},{"st":"GOLMO","x":1.79,"t":-7.1,"p":0.3},{"st":"GOLMO","x":2.44,"t":-0.8,"p":0.3},{"st":"GOLMO","x":2.54,"t":0.3,"p":0.3},{"st":"GOLMO","x":3.1,"t":11.8,"p":0.7},{"st":"GOLMO","x":3.75,"t":16.2,"p":1.0},{"st":"GOLMO","x":3.9,"t":16.8,"p":1.1},{"st":"GOLMO","x":5.13,"t":21.8,"p":0.9},{"st":"GOLMO","x":5.3,"t":21.8,"p":0.9},{"st":"GOLMO","x":5.94,"t":21.8,"p":1.9},{"st":"GOLMO","x":6.6,"t":21.8,"p":2.0},{"st":"GOLMO","x":7.33,"t":18.9,"p":2.1},{"st":"GOLMO","x":8.4,"t":11.5,"p":1.6},{"st":"GOLMO","x":8.6,"t":8.3,"p":1.5},{"st":"GOLMO","x":8.9,"t":3.5,"p":1.2},{"st":"GOLMO","x":9.05,"t":1.1,"p":1.1},{"st":"GOLMO","x":9.2,"t":-1.2,"p":1.0},{"st":"GOLMO","x":9.6,"t":-8.6,"p":0.6},{"st":"GOLMO","x":9.84,"t":-13.0,"p":0.6},{"st":"GOLMO","x":11,"t":-16.2,"p":0.6}
]},
"spacing":0,
"vconcat":[
{"transform":[{"filter":{"field":"st","oneOf":["SMARA","AGADES","SIWA","ALRIYAD"]}}],
 "facet":{"column":{"field":"st","type":"nominal","sort":["SMARA","AGADES","SIWA","ALRIYAD"],"header":{"title":null,"labels":false}}},
 "spacing":0,
 "bounds":"flush",
 "spec":{"width":304,"height":359,"layer":[
  {"transform":[{"filter":"isValid(datum.t)"},{"fold":["t","p"],"as":["k","v"]},{"joinaggregate":[{"op":"max","field":"v","as":"hi"}],"groupby":["st","x"]},{"filter":"datum.k === 'p'"}],"mark":{"type":"area","fill":{"expr":"dotrows"},"opacity":1},"encoding":{"x":{"field":"x","type":"quantitative","scale":{"domain":[-1.071,11.454],"nice":false,"zero":false},"axis":null},"y":{"field":"hi","type":"quantitative","scale":{"domain":[-20,43],"nice":false,"zero":false},"axis":null},"y2":{"field":"v"}}},
  {"transform":[{"filter":"isValid(datum.t)"},{"fold":["t","p"],"as":["k","v"]},{"joinaggregate":[{"op":"max","field":"v","as":"hi"}],"groupby":["st","x"]},{"filter":"datum.k === 'p'"}],"mark":{"type":"area","fill":{"expr":"dotcols"},"opacity":1},"encoding":{"x":{"field":"x","type":"quantitative","axis":null},"y":{"field":"hi","type":"quantitative","axis":null},"y2":{"field":"v"}}},
  {"transform":[{"filter":"isValid(datum.t)"},{"fold":["t","p"],"as":["k","v"]},{"joinaggregate":[{"op":"max","field":"v","as":"hi"}],"groupby":["st","x"]},{"filter":"datum.k === 't'"}],"mark":{"type":"area","fill":{"expr":"hatch"},"opacity":1},"encoding":{"x":{"field":"x","type":"quantitative","axis":null},"y":{"field":"hi","type":"quantitative","axis":null},"y2":{"field":"v"}}},
  {"transform":[{"filter":"isValid(datum.t)"}],"mark":{"type":"line","color":"#111","strokeWidth":1.8},"encoding":{"x":{"field":"x","type":"quantitative","axis":null},"y":{"field":"t","type":"quantitative","axis":null}}},
  {"transform":[{"filter":"isValid(datum.t)"}],"mark":{"type":"line","color":"#111","strokeWidth":1.8},"encoding":{"x":{"field":"x","type":"quantitative","axis":null},"y":{"field":"p","type":"quantitative","axis":null}}},
  {"transform":[{"filter":"isValid(datum.name)"}],"mark":{"type":"rule","color":"#111","strokeWidth":1.6},"encoding":{"x":{"datum":0},"x2":{"datum":11},"y":{"datum":0}}},
  {"transform":[{"filter":"isValid(datum.name)"}],"mark":{"type":"rule","color":"#111","strokeWidth":1.6},"encoding":{"x":{"datum":0},"y":{"datum":0},"y2":{"datum":36.5}}},
  {"transform":[{"filter":"isValid(datum.name)"}],"mark":{"type":"rule","color":"#111","strokeWidth":1.6},"encoding":{"x":{"datum":11},"y":{"datum":0},"y2":{"datum":36.5}}},
  {"transform":[{"filter":"isValid(datum.name)"}],"mark":{"type":"text","align":"left","baseline":"middle","dx":{"expr":"datum.st==='KEETMANSHOOP'?-12:datum.st==='KRASNOVODSKI'?-14:datum.st==='DALAN'?-28:datum.st==='ALICE'?-4:datum.st==='GOLMO'?7:0"}},"encoding":{"x":{"datum":0},"y":{"datum":38.1},"text":{"field":"name"}}},
  {"transform":[{"filter":"isValid(datum.name)"}],"mark":{"type":"text","align":"right","baseline":"middle","dx":{"expr":"datum.st==='SMARA'?4:datum.st==='AGADES'?7:datum.st==='KEETMANSHOOP'?23:datum.st==='MULEGE'?8:datum.st==='ANTOFAGASTA'?-7:datum.st==='ALICE'?13:datum.st==='SANTACRUZ'?-4:datum.st==='KRASNOVODSKI'?9:datum.st==='HOTAN'?-11:datum.st==='URUMTSCHI'?-8:datum.st==='DALAN'?23:datum.st==='GOLMO'?-5:0"}},"encoding":{"x":{"datum":11},"y":{"datum":38.1},"text":{"field":"info"}}}
 ]}},
{"transform":[{"filter":{"field":"st","oneOf":["KEETMANSHOOP","BIKANER","MULEGE","CHICLAYO"]}}],
 "facet":{"column":{"field":"st","type":"nominal","sort":["KEETMANSHOOP","BIKANER","MULEGE","CHICLAYO"],"header":{"title":null,"labels":false}}},
 "spacing":0,
 "bounds":"flush",
 "spec":{"width":306,"height":319,"layer":[
  {"transform":[{"filter":"isValid(datum.t)"},{"fold":["t","p"],"as":["k","v"]},{"joinaggregate":[{"op":"max","field":"v","as":"hi"}],"groupby":["st","x"]},{"filter":"datum.k === 'p'"}],"mark":{"type":"area","fill":{"expr":"dotrows"},"opacity":1},"encoding":{"x":{"field":"x","type":"quantitative","scale":{"domain":[-1.396,11.165],"nice":false,"zero":false},"axis":null},"y":{"field":"hi","type":"quantitative","scale":{"domain":[-15,41],"nice":false,"zero":false},"axis":null},"y2":{"field":"v"}}},
  {"transform":[{"filter":"isValid(datum.t)"},{"fold":["t","p"],"as":["k","v"]},{"joinaggregate":[{"op":"max","field":"v","as":"hi"}],"groupby":["st","x"]},{"filter":"datum.k === 'p'"}],"mark":{"type":"area","fill":{"expr":"dotcols"},"opacity":1},"encoding":{"x":{"field":"x","type":"quantitative","axis":null},"y":{"field":"hi","type":"quantitative","axis":null},"y2":{"field":"v"}}},
  {"transform":[{"filter":"isValid(datum.t)"},{"fold":["t","p"],"as":["k","v"]},{"joinaggregate":[{"op":"max","field":"v","as":"hi"}],"groupby":["st","x"]},{"filter":"datum.k === 't'"}],"mark":{"type":"area","fill":{"expr":"hatch"},"opacity":1},"encoding":{"x":{"field":"x","type":"quantitative","axis":null},"y":{"field":"hi","type":"quantitative","axis":null},"y2":{"field":"v"}}},
  {"transform":[{"filter":"isValid(datum.t)"}],"mark":{"type":"line","color":"#111","strokeWidth":1.8},"encoding":{"x":{"field":"x","type":"quantitative","axis":null},"y":{"field":"t","type":"quantitative","axis":null}}},
  {"transform":[{"filter":"isValid(datum.t)"}],"mark":{"type":"line","color":"#111","strokeWidth":1.8},"encoding":{"x":{"field":"x","type":"quantitative","axis":null},"y":{"field":"p","type":"quantitative","axis":null}}},
  {"transform":[{"filter":"isValid(datum.name)"}],"mark":{"type":"rule","color":"#111","strokeWidth":1.6},"encoding":{"x":{"datum":0},"x2":{"datum":11},"y":{"datum":0}}},
  {"transform":[{"filter":"isValid(datum.name)"}],"mark":{"type":"rule","color":"#111","strokeWidth":1.6},"encoding":{"x":{"datum":0},"y":{"datum":0},"y2":{"datum":36}}},
  {"transform":[{"filter":"isValid(datum.name)"}],"mark":{"type":"rule","color":"#111","strokeWidth":1.6},"encoding":{"x":{"datum":11},"y":{"datum":0},"y2":{"datum":36}}},
  {"transform":[{"filter":"isValid(datum.name)"}],"mark":{"type":"text","align":"left","baseline":"middle","dx":{"expr":"datum.st==='KEETMANSHOOP'?-20:datum.st==='KRASNOVODSKI'?-14:datum.st==='DALAN'?-28:datum.st==='ALICE'?-4:datum.st==='GOLMO'?7:0"}},"encoding":{"x":{"datum":0},"y":{"datum":39.8},"text":{"field":"name"}}},
  {"transform":[{"filter":"isValid(datum.name)"}],"mark":{"type":"text","align":"right","baseline":"middle","dx":{"expr":"datum.st==='SMARA'?4:datum.st==='AGADES'?7:datum.st==='KEETMANSHOOP'?16:datum.st==='MULEGE'?8:datum.st==='ANTOFAGASTA'?-7:datum.st==='ALICE'?13:datum.st==='SANTACRUZ'?-4:datum.st==='KRASNOVODSKI'?9:datum.st==='HOTAN'?-11:datum.st==='URUMTSCHI'?-8:datum.st==='DALAN'?23:datum.st==='GOLMO'?-5:0"}},"encoding":{"x":{"datum":11},"y":{"datum":39.8},"text":{"field":"info"}}}
 ]}},
{"transform":[{"filter":{"field":"st","oneOf":["ANTOFAGASTA","CIPOLLETTI","KARGOORLIE","ALICE"]}}],
 "facet":{"column":{"field":"st","type":"nominal","sort":["ANTOFAGASTA","CIPOLLETTI","KARGOORLIE","ALICE"],"header":{"title":null,"labels":false}}},
 "spacing":0,
 "bounds":"flush",
 "spec":{"width":306,"height":319,"layer":[
  {"transform":[{"filter":"isValid(datum.t)"},{"fold":["t","p"],"as":["k","v"]},{"joinaggregate":[{"op":"max","field":"v","as":"hi"}],"groupby":["st","x"]},{"filter":"datum.k === 'p'"}],"mark":{"type":"area","fill":{"expr":"dotrows"},"opacity":1},"encoding":{"x":{"field":"x","type":"quantitative","scale":{"domain":[-1.52,11.04],"nice":false,"zero":false},"axis":null},"y":{"field":"hi","type":"quantitative","scale":{"domain":[-15,41],"nice":false,"zero":false},"axis":null},"y2":{"field":"v"}}},
  {"transform":[{"filter":"isValid(datum.t)"},{"fold":["t","p"],"as":["k","v"]},{"joinaggregate":[{"op":"max","field":"v","as":"hi"}],"groupby":["st","x"]},{"filter":"datum.k === 'p'"}],"mark":{"type":"area","fill":{"expr":"dotcols"},"opacity":1},"encoding":{"x":{"field":"x","type":"quantitative","axis":null},"y":{"field":"hi","type":"quantitative","axis":null},"y2":{"field":"v"}}},
  {"transform":[{"filter":"isValid(datum.t)"},{"fold":["t","p"],"as":["k","v"]},{"joinaggregate":[{"op":"max","field":"v","as":"hi"}],"groupby":["st","x"]},{"filter":"datum.k === 't'"}],"mark":{"type":"area","fill":{"expr":"hatch"},"opacity":1},"encoding":{"x":{"field":"x","type":"quantitative","axis":null},"y":{"field":"hi","type":"quantitative","axis":null},"y2":{"field":"v"}}},
  {"transform":[{"filter":"isValid(datum.t)"}],"mark":{"type":"line","color":"#111","strokeWidth":1.8},"encoding":{"x":{"field":"x","type":"quantitative","axis":null},"y":{"field":"t","type":"quantitative","axis":null}}},
  {"transform":[{"filter":"isValid(datum.t)"}],"mark":{"type":"line","color":"#111","strokeWidth":1.8},"encoding":{"x":{"field":"x","type":"quantitative","axis":null},"y":{"field":"p","type":"quantitative","axis":null}}},
  {"transform":[{"filter":"isValid(datum.name)"}],"mark":{"type":"rule","color":"#111","strokeWidth":1.6},"encoding":{"x":{"datum":0},"x2":{"datum":11},"y":{"datum":0}}},
  {"transform":[{"filter":"isValid(datum.name)"}],"mark":{"type":"rule","color":"#111","strokeWidth":1.6},"encoding":{"x":{"datum":0},"y":{"datum":0},"y2":{"datum":36}}},
  {"transform":[{"filter":"isValid(datum.name)"}],"mark":{"type":"rule","color":"#111","strokeWidth":1.6},"encoding":{"x":{"datum":11},"y":{"datum":0},"y2":{"datum":36}}},
  {"transform":[{"filter":"isValid(datum.name)"}],"mark":{"type":"text","align":"left","baseline":"middle","dx":{"expr":"datum.st==='KEETMANSHOOP'?-12:datum.st==='KRASNOVODSKI'?-14:datum.st==='DALAN'?-28:datum.st==='ALICE'?-4:datum.st==='GOLMO'?7:0"}},"encoding":{"x":{"datum":0},"y":{"datum":39.8},"text":{"field":"name"}}},
  {"transform":[{"filter":"isValid(datum.name)"}],"mark":{"type":"text","align":"right","baseline":"middle","dx":{"expr":"datum.st==='SMARA'?4:datum.st==='AGADES'?7:datum.st==='KEETMANSHOOP'?23:datum.st==='MULEGE'?8:datum.st==='ANTOFAGASTA'?-7:datum.st==='ALICE'?13:datum.st==='SANTACRUZ'?-4:datum.st==='KRASNOVODSKI'?9:datum.st==='HOTAN'?-11:datum.st==='URUMTSCHI'?-8:datum.st==='DALAN'?23:datum.st==='GOLMO'?-5:0"}},"encoding":{"x":{"datum":11},"y":{"datum":39.8},"text":{"field":"info"}}}
 ]}},
{"transform":[{"filter":{"field":"st","oneOf":["RENO","SANTACRUZ","KRASNOVODSKI","ISFAHAN"]}}],
 "facet":{"column":{"field":"st","type":"nominal","sort":["RENO","SANTACRUZ","KRASNOVODSKI","ISFAHAN"],"header":{"title":null,"labels":false}}},
 "spacing":0,
 "bounds":"flush",
 "spec":{"width":310,"height":293,"layer":[
  {"transform":[{"filter":"isValid(datum.t)"},{"fold":["t","p"],"as":["k","v"]},{"joinaggregate":[{"op":"max","field":"v","as":"hi"}],"groupby":["st","x"]},{"filter":"datum.k === 'p'"}],"mark":{"type":"area","fill":{"expr":"dotrows"},"opacity":1},"encoding":{"x":{"field":"x","type":"quantitative","scale":{"domain":[-0.989,11.784],"nice":false,"zero":false},"axis":null},"y":{"field":"hi","type":"quantitative","scale":{"domain":[-10.4,41],"nice":false,"zero":false},"axis":null},"y2":{"field":"v"}}},
  {"transform":[{"filter":"isValid(datum.t)"},{"fold":["t","p"],"as":["k","v"]},{"joinaggregate":[{"op":"max","field":"v","as":"hi"}],"groupby":["st","x"]},{"filter":"datum.k === 'p'"}],"mark":{"type":"area","fill":{"expr":"dotcols"},"opacity":1},"encoding":{"x":{"field":"x","type":"quantitative","axis":null},"y":{"field":"hi","type":"quantitative","axis":null},"y2":{"field":"v"}}},
  {"transform":[{"filter":"isValid(datum.t)"},{"fold":["t","p"],"as":["k","v"]},{"joinaggregate":[{"op":"max","field":"v","as":"hi"}],"groupby":["st","x"]},{"filter":"datum.k === 't'"}],"mark":{"type":"area","fill":{"expr":"hatch"},"opacity":1},"encoding":{"x":{"field":"x","type":"quantitative","axis":null},"y":{"field":"hi","type":"quantitative","axis":null},"y2":{"field":"v"}}},
  {"transform":[{"filter":"isValid(datum.t)"}],"mark":{"type":"line","color":"#111","strokeWidth":1.8},"encoding":{"x":{"field":"x","type":"quantitative","axis":null},"y":{"field":"t","type":"quantitative","axis":null}}},
  {"transform":[{"filter":"isValid(datum.t)"}],"mark":{"type":"line","color":"#111","strokeWidth":1.8},"encoding":{"x":{"field":"x","type":"quantitative","axis":null},"y":{"field":"p","type":"quantitative","axis":null}}},
  {"transform":[{"filter":"isValid(datum.name)"}],"mark":{"type":"rule","color":"#111","strokeWidth":1.6},"encoding":{"x":{"datum":0},"x2":{"datum":11},"y":{"datum":0}}},
  {"transform":[{"filter":"isValid(datum.name)"}],"mark":{"type":"rule","color":"#111","strokeWidth":1.6},"encoding":{"x":{"datum":0},"y":{"datum":0},"y2":{"datum":36}}},
  {"transform":[{"filter":"isValid(datum.name)"}],"mark":{"type":"rule","color":"#111","strokeWidth":1.6},"encoding":{"x":{"datum":11},"y":{"datum":0},"y2":{"datum":36}}},
  {"transform":[{"filter":"isValid(datum.name)"}],"mark":{"type":"text","align":"left","baseline":"middle","dx":{"expr":"datum.st==='RENO'?-10:datum.st==='KRASNOVODSKI'?-14:0"}},"encoding":{"x":{"datum":0},"y":{"datum":39.8},"text":{"field":"name"}}},
  {"transform":[{"filter":"isValid(datum.name)"}],"mark":{"type":"text","align":"right","baseline":"middle","dx":{"expr":"datum.st==='SANTACRUZ'?-4:datum.st==='KRASNOVODSKI'?9:0"}},"encoding":{"x":{"datum":11},"y":{"datum":39.8},"text":{"field":"info"}}}
 ]}},
{"transform":[{"filter":{"field":"st","oneOf":["HOTAN","URUMTSCHI","DALAN","GOLMO"]}}],
 "facet":{"column":{"field":"st","type":"nominal","sort":["HOTAN","URUMTSCHI","DALAN","GOLMO"],"header":{"title":null,"labels":false}}},
 "spacing":0,
 "bounds":"flush",
 "spec":{"width":310,"height":333,"layer":[
  {"transform":[{"filter":"isValid(datum.t)"},{"fold":["t","p"],"as":["k","v"]},{"joinaggregate":[{"op":"max","field":"v","as":"hi"}],"groupby":["st","x"]},{"filter":"datum.k === 'p'"}],"mark":{"type":"area","fill":{"expr":"dotrows"},"opacity":1},"encoding":{"x":{"field":"x","type":"quantitative","scale":{"domain":[-1.026,11.70],"nice":false,"zero":false},"axis":null},"y":{"field":"hi","type":"quantitative","scale":{"domain":[-17.42,41],"nice":false,"zero":false},"axis":null},"y2":{"field":"v"}}},
  {"transform":[{"filter":"isValid(datum.t)"},{"fold":["t","p"],"as":["k","v"]},{"joinaggregate":[{"op":"max","field":"v","as":"hi"}],"groupby":["st","x"]},{"filter":"datum.k === 'p'"}],"mark":{"type":"area","fill":{"expr":"dotcols"},"opacity":1},"encoding":{"x":{"field":"x","type":"quantitative","axis":null},"y":{"field":"hi","type":"quantitative","axis":null},"y2":{"field":"v"}}},
  {"transform":[{"filter":"isValid(datum.t)"},{"fold":["t","p"],"as":["k","v"]},{"joinaggregate":[{"op":"max","field":"v","as":"hi"}],"groupby":["st","x"]},{"filter":"datum.k === 't'"}],"mark":{"type":"area","fill":{"expr":"hatch"},"opacity":1},"encoding":{"x":{"field":"x","type":"quantitative","axis":null},"y":{"field":"hi","type":"quantitative","axis":null},"y2":{"field":"v"}}},
  {"transform":[{"filter":"isValid(datum.name)"}],"mark":{"type":"rect","fill":"white"},"encoding":{"x":{"datum":-0.3},"x2":{"datum":11.3},"y":{"datum":0},"y2":{"datum":-17.42}}},
  {"transform":[{"filter":"isValid(datum.t)"}],"mark":{"type":"line","color":"#111","strokeWidth":1.8},"encoding":{"x":{"field":"x","type":"quantitative","axis":null},"y":{"field":"t","type":"quantitative","axis":null}}},
  {"transform":[{"filter":"isValid(datum.t)"}],"mark":{"type":"line","color":"#111","strokeWidth":1.8},"encoding":{"x":{"field":"x","type":"quantitative","axis":null},"y":{"field":"p","type":"quantitative","axis":null}}},
  {"transform":[{"filter":"isValid(datum.name)"}],"mark":{"type":"rule","color":"#111","strokeWidth":1.6},"encoding":{"x":{"datum":0},"x2":{"datum":11},"y":{"datum":0}}},
  {"transform":[{"filter":"isValid(datum.t)"},{"aggregate":[{"op":"min","field":"t","as":"tmin"}],"groupby":["st"]}],"mark":{"type":"rule","color":"#111","strokeWidth":1.6},"encoding":{"x":{"datum":0},"y":{"field":"tmin","type":"quantitative"},"y2":{"datum":37.3}}},
  {"transform":[{"filter":"isValid(datum.t)"},{"aggregate":[{"op":"min","field":"t","as":"tmin"}],"groupby":["st"]}],"mark":{"type":"rule","color":"#111","strokeWidth":1.6},"encoding":{"x":{"datum":11},"y":{"field":"tmin","type":"quantitative"},"y2":{"datum":37.3}}},
  {"transform":[{"filter":"isValid(datum.name)"}],"mark":{"type":"text","align":"left","baseline":"middle","dx":{"expr":"datum.st==='HOTAN'?-10:datum.st==='DALAN'?-28:datum.st==='GOLMO'?4:0"}},"encoding":{"x":{"datum":0},"y":{"datum":40},"text":{"field":"name"}}},
  {"transform":[{"filter":"isValid(datum.name)"}],"mark":{"type":"text","align":"right","baseline":"middle","dx":{"expr":"datum.st==='HOTAN'?-11:datum.st==='URUMTSCHI'?-8:datum.st==='DALAN'?23:datum.st==='GOLMO'?-5:0"}},"encoding":{"x":{"datum":11},"y":{"datum":40},"text":{"field":"info"}}}
 ]}}
],
"config":{
 "view":{"stroke":null},
 "axis":{"disable":true},
 "facet":{"spacing":0},
 "concat":{"spacing":0},
 "text":{"font":"Liberation Sans","fontSize":14.5,"fontWeight":"bold","color":"#111"}
}
}
